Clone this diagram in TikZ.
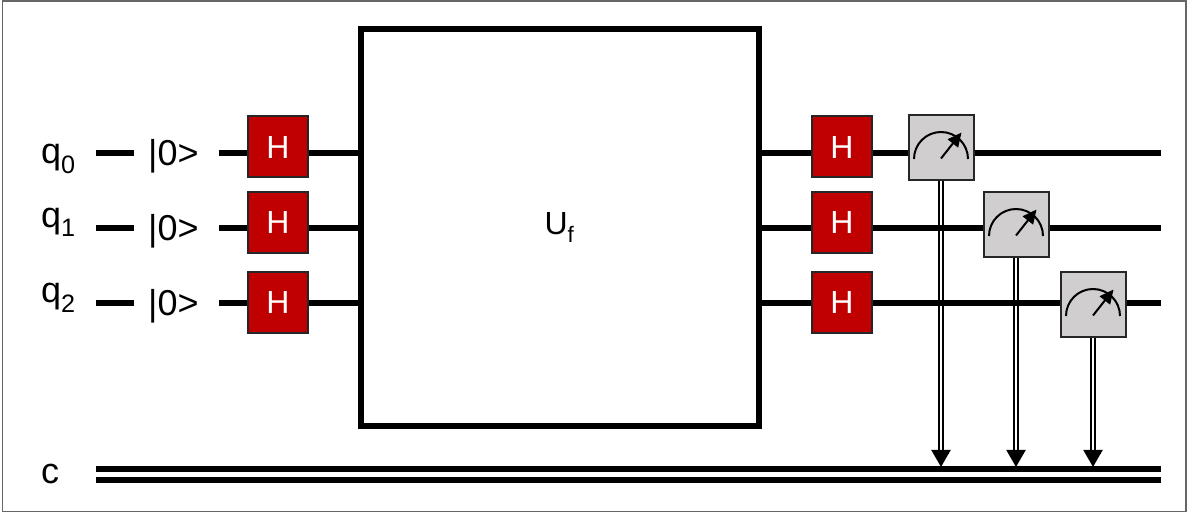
\documentclass[tikz,border=0pt]{standalone}
\usepackage{fontspec}
\setmainfont{Liberation Sans}
\usetikzlibrary{arrows.meta}
\definecolor{hred}{RGB}{192,0,0}
\definecolor{mgray}{RGB}{208,206,206}
\tikzset{
  x=1pt,y=-1pt,
  wire/.style={line width=6.5pt,black},
  gate/.style={draw=black!85,line width=2pt,fill=hred,minimum width=60pt,minimum height=61pt,inner sep=0pt,text=white,font=\fontsize{32}{32}\selectfont},
  meterbox/.style={draw=black!85,line width=2pt,fill=mgray,minimum width=65pt,minimum height=65pt,inner sep=0pt},
  oracle/.style={draw=black,line width=6pt,fill=white,minimum width=398pt,minimum height=397pt,inner sep=0pt,font=\fontsize{32}{32}\selectfont},
  lab/.style={inner sep=0pt,font=\fontsize{36}{36}\selectfont},
  readout/.style={double,double distance=2.6pt,line width=2pt,-{Triangle[length=17pt,width=19pt]}},
  needle/.style={line width=2pt,-{Triangle[length=14pt,width=13pt]}},
}
\newcommand{\dial}[1]{%
  \draw[line width=2pt] ([shift={(-27,11.5)}]#1.center) arc[start angle=180,end angle=0,radius=27pt];
  \draw[needle] ([shift={(0,11)}]#1.center) -- ([shift={(20.5,-15)}]#1.center);
}
\begin{document}
\begin{tikzpicture}
\useasboundingbox (0,0) rectangle (1187,518);
\draw[line width=1.5pt,draw=black!60] (2.5,1) rectangle (1186,511.5);
% free wire ends
\coordinate (s0) at (96,153); \coordinate (s1) at (96,228); \coordinate (s2) at (96,303);
\coordinate (a0) at (134,153); \coordinate (a1) at (134,228); \coordinate (a2) at (134,303);
\coordinate (b0) at (219,153); \coordinate (b1) at (219,228); \coordinate (b2) at (219,303);
\coordinate (e0) at (1161,153); \coordinate (e1) at (1161,228); \coordinate (e2) at (1161,303);
\coordinate (cs1) at (96,469); \coordinate (ce1) at (1161,469);
\coordinate (cs2) at (96,480); \coordinate (ce2) at (1161,480);
\coordinate (tip) at (96,467);
% boxes
\node[oracle] (U) at (559.5,227.5) {U\textsubscript{f}};
\node[gate] (hl0) at (278,147) {H};
\node[gate] (hl1) at (278,222.5) {H};
\node[gate] (hl2) at (278,302.5) {H};
\node[gate] (hr0) at (842,147) {H};
\node[gate] (hr1) at (842,222.5) {H};
\node[gate] (hr2) at (842,302.5) {H};
\node[meterbox] (m0) at (941,147.5) {};
\node[meterbox] (m1) at (1016,224.5) {};
\node[meterbox] (m2) at (1093,304.5) {};
\dial{m0}\dial{m1}\dial{m2}
% wires that the read-out heads rest on
\draw[wire] (cs1) -- (ce1);
\draw[wire] (cs2) -- (ce2);
% read-out lines, running under the qubit wires
\draw[readout] (m0.south) -- (m0.south |- tip);
\draw[readout] (m1.south) -- (m1.south |- tip);
\draw[readout] (m2.south) -- (m2.south |- tip);
% qubit wires
\foreach \i in {0,1,2}{
  \draw[wire] (s\i) -- (a\i);
  \draw[wire] (b\i) -- (hl\i.west |- b\i);
  \draw[wire] (hl\i.east |- b\i) -- (U.west |- b\i);
  \draw[wire] (U.east |- b\i) -- (hr\i.west |- b\i);
  \draw[wire] (hr\i.east |- b\i) -- (m\i.west |- b\i);
  \draw[wire] (m\i.east |- b\i) -- (e\i);
}
% labels
\node[lab,anchor=base west] (q0) at (41,164) {q\textsubscript{0}};
\node[lab,anchor=base west] (q1) at (41,228) {q\textsubscript{1}};
\node[lab,anchor=base west] (q2) at (41,303) {q\textsubscript{2}};
\node[lab,anchor=base west] (k0) at (148,166) {|0>};
\node[lab,anchor=base west] (k1) at (148,241) {|0>};
\node[lab,anchor=base west] (k2) at (148,316) {|0>};
\node[lab,anchor=base west] (c) at (41,484) {c};
\end{tikzpicture}
\end{document}
